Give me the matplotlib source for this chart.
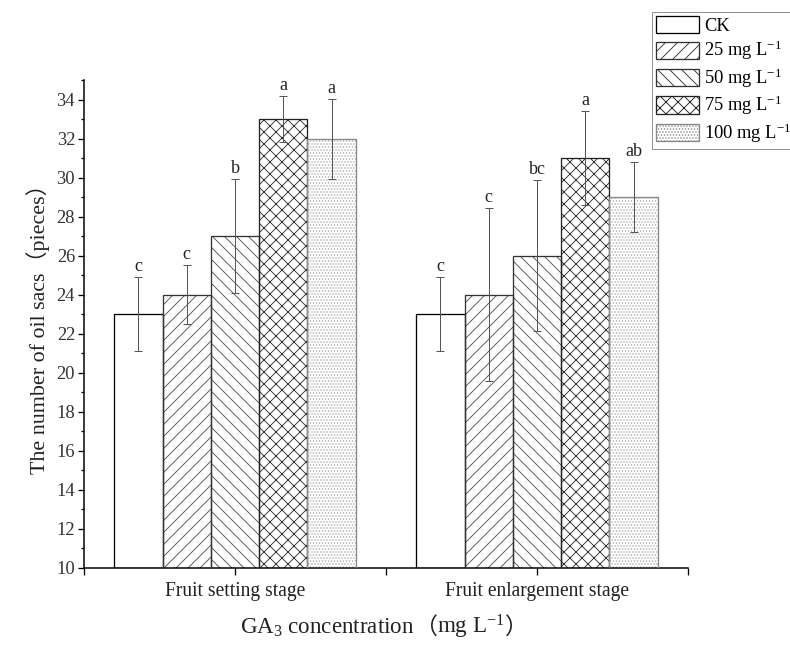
import matplotlib
matplotlib.use("Agg")
import matplotlib.pyplot as plt
import numpy as np
from matplotlib.patches import Patch
from matplotlib.offsetbox import TextArea, HPacker, AnchoredOffsetbox

plt.rcParams['font.family'] = ['Liberation Serif', 'Noto Sans CJK SC']
plt.rcParams['mathtext.fontset'] = 'custom'
plt.rcParams['mathtext.rm'] = 'Liberation Serif'
plt.rcParams['mathtext.it'] = 'Liberation Serif:italic'
plt.rcParams['mathtext.bf'] = 'Liberation Serif:bold'
plt.rcParams['hatch.linewidth'] = 0.9

stages = ['Fruit setting stage', 'Fruit enlargement stage']
treatments = ['CK', '25 mg L$^{-1}$', '50 mg L$^{-1}$', '75 mg L$^{-1}$', '100 mg L$^{-1}$']

# oil sac counts per treatment, one value per stage
ck = [23, 23]
ga25 = [24, 24]
ga50 = [27, 26]
ga75 = [33, 31]
ga100 = [32, 29]

ck_err = [1.9, 1.9]
ga25_err = [1.5, 4.45]
ga50_err = [2.9, 3.85]
ga75_err = [1.2, 2.4]
ga100_err = [2.05, 1.8]

ck_sig = ['c', 'c']
ga25_sig = ['c', 'c']
ga50_sig = ['b', 'bc']
ga75_sig = ['a', 'a']
ga100_sig = ['a', 'ab']

values = [ck, ga25, ga50, ga75, ga100]
errors = [ck_err, ga25_err, ga50_err, ga75_err, ga100_err]
letters = [ck_sig, ga25_sig, ga50_sig, ga75_sig, ga100_sig]
hatches = ['', '//', '\\\\', 'xx', '....']
hatch_cols = ['#444444', '#555555', '#555555', '#333333', '#aaaaaa']
outline_cols = ['black', '#333333', '#333333', '#222222', '#888888']

fig = plt.figure(figsize=(790 / 72, 645 / 72), dpi=72)
ax = fig.add_axes([84 / 790, 1 - 567.7 / 645, 604 / 790, 487.7 / 645])

x = np.arange(len(stages))
width = 0.16
for i in range(len(treatments)):
    pos = x + (i - 2) * width
    # hatch layer, then a plain outline on top
    ax.bar(pos, np.array(values[i]) - 10, width, bottom=10, color='white',
           edgecolor=hatch_cols[i], hatch=hatches[i], linewidth=0, zorder=2)
    ax.bar(pos, np.array(values[i]) - 10, width, bottom=10, fill=False,
           edgecolor=outline_cols[i], linewidth=1.3, zorder=3)
    ax.errorbar(pos, values[i], yerr=errors[i], fmt='none', ecolor='#555555',
                elinewidth=1.0, capsize=4, capthick=1.0, zorder=4)
    for p, v, e, s in zip(pos, values[i], errors[i], letters[i]):
        ax.annotate(s, (p, v + e), xytext=(0, 2), textcoords='offset points',
                    ha='center', va='bottom', fontsize=18, color='#222222')

ax.set_xlim(-0.5, 1.5)
ax.set_ylim(10, 35)
ax.set_yticks(np.arange(10, 35, 2))
ax.set_yticks(np.arange(11, 36, 2), minor=True)
ax.set_xticks(x)
ax.set_xticklabels(stages)
ax.set_xticks([-0.5, 0.5, 1.5], minor=True)
ax.tick_params(axis='y', which='major', length=6, width=1.3, labelsize=18.5,
               pad=3, labelcolor='#333333')
ax.tick_params(axis='y', which='minor', length=3, width=1.3)
ax.tick_params(axis='x', which='both', length=7, width=1.3, labelsize=19.5,
               pad=7, labelcolor='#222222')
for side in ['top', 'right']:
    ax.spines[side].set_visible(False)
for side in ['left', 'bottom']:
    ax.spines[side].set_linewidth(1.5)

ax.set_ylabel('The number of oil sacs（pieces）', fontsize=22, labelpad=6,
              color='#222222')

# x label pieces: mathtext parts in serif, full-width brackets from the CJK font
serif = dict(fontsize=23, family='Liberation Serif', color='#222222')
cjk = dict(fontsize=23, family='Noto Sans CJK SC', color='#222222')
xlab = HPacker(children=[TextArea('GA$_3$ concentration', textprops=serif),
                         TextArea('（', textprops=cjk),
                         TextArea('mg L$^{-1}$', textprops=serif),
                         TextArea('）', textprops=cjk)],
               align='baseline', pad=0, sep=0)
fig.add_artist(AnchoredOffsetbox(loc='center', child=xlab, frameon=False, pad=0,
                                 borderpad=0, bbox_to_anchor=(384 / 790, 1 - 627 / 645),
                                 bbox_transform=fig.transFigure))

handles = [Patch(facecolor='white', edgecolor=outline_cols[i], hatch=hatches[i],
                 linewidth=1.3) for i in range(len(treatments))]
leg = fig.legend(handles, treatments, loc='upper left',
                 bbox_to_anchor=(652 / 790, 1 - 12 / 645), fontsize=18.5,
                 handlelength=2.3, handleheight=1.05, labelspacing=0.22,
                 handletextpad=0.3, borderpad=0.22, borderaxespad=0,
                 fancybox=False, frameon=True)
leg.get_frame().set_edgecolor('#777777')
leg.get_frame().set_linewidth(1.0)

fig.savefig('out.png', dpi=72)
